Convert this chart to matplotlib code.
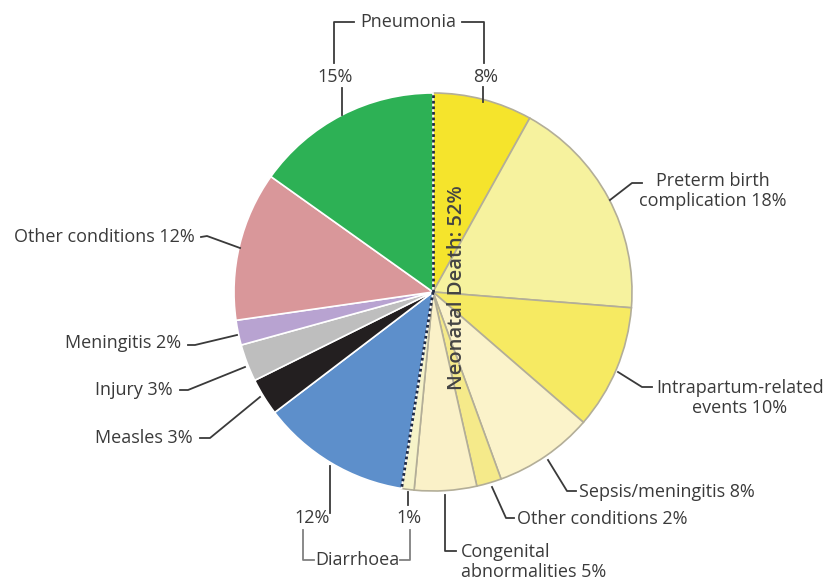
import numpy as np
import matplotlib.pyplot as plt

# ---------- data ----------
causes = ["Pneumonia (neonatal)", "Preterm birth complication", "Intrapartum-related events",
          "Sepsis/meningitis", "Other conditions (neonatal)", "Congenital abnormalities",
          "Diarrhoea (neonatal)", "Diarrhoea", "Measles", "Injury", "Meningitis",
          "Other conditions", "Pneumonia"]
shares = [8, 18, 10, 8, 2, 5, 1, 12, 3, 3, 2, 12, 15]
colors = ["#F5E42C", "#F6F29E", "#F6EA62", "#FBF3CA", "#F5EA8A", "#FAF1C8", "#F6F3C8",
          "#5D8FCB", "#231F20", "#BEBEBE", "#B8A3D1", "#D9979A", "#2DB155"]
neonatal_n = 7
neonatal_total = sum(shares[:neonatal_n])

plt.rcParams['font.family'] = ['Open Sans', 'DejaVu Sans']
txt = "#3a3a3a"
fs = 13

H = 581
def Y(y):
    # pixel row (from top) -> data y
    return H - np.asarray(y)

fig = plt.figure(figsize=(8.25, 5.81), dpi=100)
ax = fig.add_axes([0, 0, 1, 1])

cx, cy, r = 433, 292, 199

wedges, _ = ax.pie(shares, colors=colors, startangle=90, counterclock=False,
                   center=(cx, Y(cy)), radius=r, frame=True,
                   wedgeprops=dict(linewidth=1.2))
for i, w in enumerate(wedges):
    w.set_edgecolor("#b3ae98" if i < neonatal_n else "white")
ax.set_xlim(0, 825)
ax.set_ylim(0, H)
ax.set_aspect('equal')
ax.axis('off')

# dotted separators for the neonatal part
for frac in [0, neonatal_total / sum(shares)]:
    ang = np.deg2rad(90 - 360 * frac)
    ax.plot([cx, cx + r * np.cos(ang)], [Y(cy), Y(cy) + r * np.sin(ang)],
            color="#1f2a44", lw=2, ls=(0, (1, 1)), zorder=5)

ax.text(457, Y(288), f"Neonatal Death: {neonatal_total}%", rotation=90, ha='center', va='center',
        fontsize=14.5, fontweight='semibold', color="#444444", zorder=6)

line_kw = dict(color="#3a3a3a", lw=1.3)
brk_kw = dict(color="#808080", lw=1.3)

def lbl(x, y, s, ha='center'):
    ax.text(x, Y(y), s, ha=ha, va='center', fontsize=fs, color=txt, linespacing=1.1)

def seg(xs, ys, kw=line_kw):
    ax.plot(xs, Y(ys), **kw)

# Pneumonia bracket
lbl(408, 22, "Pneumonia")
seg([334, 334, 354], [63, 22, 22])
seg([462, 484, 484], [22, 22, 63])
lbl(335, 77, f"{shares[12]}%")
lbl(486, 77, f"{shares[0]}%")
seg([342, 342], [88, 115])
seg([483, 483], [87, 102])

# right side labels
lbl(713, 191, f"Preterm birth\ncomplication {shares[1]}%")
seg([610, 632, 642], [200, 183, 183])

lbl(740, 398, f"Intrapartum-related\nevents {shares[2]}%")
seg([618, 642, 652], [372, 387, 387])

lbl(579, 492, f"Sepsis/meningitis {shares[3]}%", ha='left')
seg([548, 567, 576], [460, 491, 491])

lbl(517, 519, f"Other conditions {shares[4]}%", ha='left')
seg([492, 506, 514], [487, 518, 518])

lbl(461, 562, f"Congenital\nabnormalities {shares[5]}%", ha='left')
seg([445, 445, 456], [495, 551, 551])

# Diarrhoea bracket
lbl(312, 518, f"{shares[7]}%")
lbl(409, 518, f"{shares[6]}%")
seg([330, 330], [466, 513])
seg([408, 408], [492, 505])
lbl(357, 560, "Diarrhoea")
seg([303, 303, 314], [530, 560, 560], brk_kw)
seg([400, 410, 410], [560, 560, 530], brk_kw)

# left side labels
lbl(195, 237, f"Other conditions {shares[11]}%", ha='right')
seg([201, 207, 240], [237, 236, 248])

lbl(181, 343, f"Meningitis {shares[10]}%", ha='right')
seg([188, 195, 237], [345, 345, 335])

lbl(173, 390, f"Injury {shares[9]}%", ha='right')
seg([180, 188, 245], [390, 390, 367])

lbl(193, 438, f"Measles {shares[8]}%", ha='right')
seg([200, 210, 260], [438, 438, 397])

plt.savefig("out.png", dpi=100)
